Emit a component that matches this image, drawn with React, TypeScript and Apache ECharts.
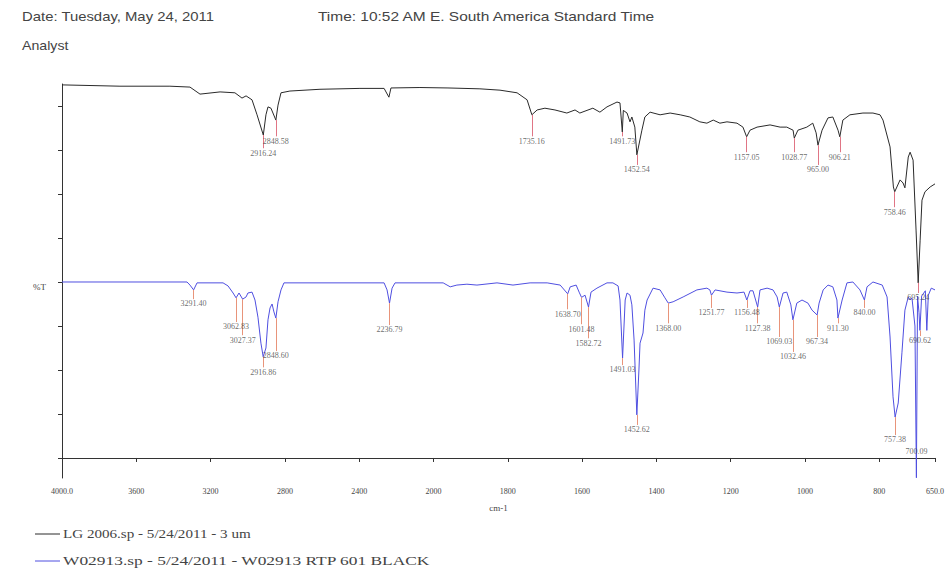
import React, { useEffect, useRef } from "react";
import * as echarts from "echarts";

// Spectrum 1: LG 2006.sp (black) — wavenumber (cm-1) and %T (arbitrary offset units)
const TOP_W = [4000, 3688, 3419, 3311, 3257, 3149, 3069, 3031, 3009, 2977, 2950, 2916.24, 2902, 2891, 2875, 2848.58, 2837, 2821, 2773, 2611, 2396, 2266, 2240, 2229, 2073, 1961, 1875, 1821, 1775, 1748, 1735.16, 1721, 1700, 1673, 1641, 1619, 1606, 1571, 1552, 1533, 1506, 1498, 1491.73, 1489, 1479, 1471, 1466, 1458, 1452.54, 1439, 1431, 1417, 1390, 1363, 1336, 1310, 1283, 1264, 1247, 1229, 1210, 1183, 1167, 1157.05, 1148, 1129, 1094, 1067, 1049, 1032, 1028.77, 1019, 995, 979, 970, 965.0, 954, 938, 925, 911, 906.21, 898, 879, 844, 817, 798, 790, 771, 762, 758.46, 744, 736, 731, 722, 717, 709, 701, 695.24, 690, 685, 677, 663, 650];
const TOP_T = [84.8, 84.5, 84.5, 84.3, 82.7, 83.2, 83.0, 81.8, 82.3, 81.4, 78.0, 73.4, 78.0, 79.8, 79.5, 76.8, 80.2, 83.0, 83.4, 83.8, 84.0, 84.0, 82.0, 84.1, 84.2, 84.1, 83.9, 83.6, 83.0, 81.4, 78.0, 79.1, 79.5, 79.1, 78.4, 79.1, 78.4, 79.5, 78.6, 79.8, 80.9, 80.7, 74.1, 79.0, 78.4, 76.4, 77.5, 75.2, 68.9, 74.5, 77.5, 78.6, 78.0, 78.4, 78.0, 77.5, 76.4, 76.1, 76.8, 76.1, 76.4, 76.1, 75.2, 73.0, 74.5, 75.2, 75.7, 75.2, 75.2, 74.5, 72.7, 74.5, 75.2, 76.1, 73.9, 71.1, 74.5, 77.3, 77.5, 74.5, 73.0, 76.8, 78.0, 78.4, 78.4, 78.0, 76.8, 70.7, 61.6, 60.5, 63.2, 62.5, 61.4, 68.4, 69.5, 67.7, 51.8, 39.8, 49.5, 58.6, 60.5, 61.6, 62.3];

// Spectrum 2: W02913.sp (blue)
const BOT_W = [4000, 3327, 3311, 3291.4, 3273, 3133, 3106, 3079, 3062.83, 3047, 3027.37, 3009, 2999, 2977, 2961, 2945, 2929, 2916.86, 2902, 2891, 2880, 2869, 2859, 2848.6, 2837, 2821, 2805, 2266, 2250, 2236.79, 2223, 2207, 1974, 1955, 1937, 1910, 1883, 1829, 1786, 1740, 1694, 1659, 1638.7, 1632, 1616, 1608, 1601.48, 1592, 1582.72, 1576, 1560, 1533, 1517, 1503, 1498, 1491.03, 1484, 1479, 1471, 1466, 1460, 1452.62, 1447, 1444, 1436, 1431, 1425, 1409, 1390, 1377, 1368.0, 1355, 1328, 1291, 1264, 1256, 1251.77, 1242, 1210, 1183, 1164, 1156.48, 1148, 1140, 1127.38, 1121, 1102, 1086, 1075, 1069.03, 1059, 1049, 1038, 1032.46, 1022, 1008, 992, 981, 967.34, 962, 951, 938, 925, 914, 911.3, 900, 887, 871, 852, 840.0, 833, 817, 792, 779, 771, 763, 757.38, 749, 739, 731, 722, 717, 712, 704, 700.09, 697, 693, 690.62, 686, 676, 672, 668, 660, 650];
const BOT_T = [40, 40, 39.3, 38.2, 39.8, 39.8, 39.1, 37.5, 36.4, 37.5, 36.1, 36.6, 37.5, 37.7, 35.9, 32.0, 26.1, 23.0, 25.0, 31.4, 34.1, 35.0, 33.2, 31.8, 35.5, 38.2, 39.8, 39.8, 38.2, 35.2, 38.6, 39.8, 39.8, 38.9, 39.3, 39.5, 39.3, 39.8, 39.3, 39.8, 39.8, 39.3, 37.3, 38.9, 39.3, 37.7, 36.5, 37.0, 34.3, 37.7, 38.6, 39.8, 39.8, 39.1, 35.9, 22.7, 35.9, 37.5, 37.0, 34.8, 26.8, 9.8, 20, 26.1, 28.4, 33.6, 35.9, 38.6, 38.2, 36.4, 35.2, 35.5, 36.6, 38.2, 38.6, 38.2, 37.0, 38.2, 37.7, 37.5, 37.7, 35.9, 38.0, 38.0, 34.3, 38.2, 38.6, 38.2, 36.6, 34.3, 37.5, 37.7, 34.8, 31.4, 35.2, 35.9, 35.2, 33.6, 32.5, 35.2, 38.2, 39.3, 38.9, 35.9, 31.8, 35.9, 39.8, 40, 38.2, 35.9, 38.9, 40, 39.3, 36.6, 27.5, 13.9, 9.3, 12.5, 23.9, 33.6, 36.6, 35.9, 36.4, 30, -4.5, 36.8, 33, 29, 36.8, 38.0, 29, 37, 38.6, 38.2];

// Peak picks (wavenumbers)
const TOP_PEAKS = [2916.24, 2848.58, 1735.16, 1491.73, 1452.54, 1157.05, 1028.77, 965.0, 906.21, 758.46, 695.24];
const BOT_PEAKS = [3291.4, 3062.83, 3027.37, 2916.86, 2848.6, 2236.79, 1638.7, 1601.48, 1582.72, 1491.03, 1452.62, 1368.0, 1251.77, 1156.48, 1127.38, 1069.03, 1032.46, 967.34, 911.3, 840.0, 757.38, 700.09, 690.62];

// Axis ticks
const X_TICK_W = [4000, 3600, 3200, 2800, 2400, 2000, 1800, 1600, 1400, 1200, 1000, 800, 650];
const X_TICK_TEXT = ["4000.0", "3600", "3200", "2800", "2400", "2000", "1800", "1600", "1400", "1200", "1000", "800", "650.0"];
const Y_TICKS = [0, 10, 20, 30, 40, 50, 60, 70, 80];

const SERIES_NAMES = ["LG 2006.sp - 5/24/2011 - 3 um", "W02913.sp - 5/24/2011 - W02913 RTP 601 BLACK"];

// layout: label rows (value units) for peak annotations
const TOP_LABEL_ROW = [69.3, 72.0, 72.0, 72.0, 65.5, 68.4, 68.4, 65.5, 68.4, 55.9, 36.4];
const BOT_LABEL_ROW = [35.0, 29.8, 26.8, 19.5, 23.2, 29.1, 32.7, 29.3, 26.1, 20.0, 6.4, 29.5, 33.0, 33.0, 29.5, 26.4, 23.0, 26.4, 29.5, 33.0, 4.1, 1.4, 26.6];

// 4000-2000 cm-1 drawn at half the scale of 2000-650 cm-1
const toU = (w: number) => (w >= 2000 ? 4000 - w : 2000 + (2000 - w) * 2);

const BLACK = "#2a2a2a";
const BLUE = "#4f4fe0";
const SERIF = "Liberation Serif";
const SANS = "Liberation Sans";

function peakLines(peaks: number[], W: number[], T: number[], rows: number[]) {
  const out: any[] = [];
  peaks.forEach((w, i) => {
    const idx = W.indexOf(w);
    const pv = T[idx];
    const end = rows[i] + 1.1;
    if (end < pv) out.push([{ coord: [toU(w), pv] }, { coord: [toU(w), end] }]);
  });
  return out;
}

function peakLabels(peaks: number[], rows: number[]) {
  return peaks.map((w, i) => ({ value: [toU(w), rows[i]], name: w.toFixed(2) }));
}

export default function App() {
  const ref = useRef<HTMLDivElement>(null);
  useEffect(() => {
    if (!ref.current) return;
    const chart = echarts.init(ref.current, undefined, { renderer: "svg" });
    const xTickU = X_TICK_W.map(toU);
    const labelStyle = {
      show: true,
      position: "inside" as const,
      formatter: (p: any) => p.name,
      fontSize: 8,
      fontFamily: SERIF,
      color: "#444",
    };
    chart.setOption({
      animation: false,
      backgroundColor: "#fff",
      grid: { left: 62, right: 16, top: 84, bottom: 90 },
      xAxis: {
        type: "value",
        min: 0,
        max: 4700,
        name: "cm-1",
        nameLocation: "middle",
        nameGap: 25,
        nameTextStyle: { fontFamily: SERIF, fontSize: 9, color: "#444" },
        axisLine: { show: true, lineStyle: { color: "#333", width: 1 } },
        axisTick: { show: true, length: 4, customValues: xTickU, lineStyle: { color: "#333" } },
        axisLabel: {
          customValues: xTickU,
          fontFamily: SERIF,
          fontSize: 8,
          color: "#444",
          margin: 9,
          formatter: (v: number) => {
            const i = xTickU.findIndex((u) => Math.abs(u - v) < 1e-6);
            return i >= 0 ? X_TICK_TEXT[i] : "";
          },
        },
        splitLine: { show: false },
      },
      yAxis: {
        type: "value",
        min: -4.55,
        max: 85,
        axisLine: { show: true, lineStyle: { color: "#333", width: 1 } },
        axisTick: { show: true, length: 4, customValues: Y_TICKS, lineStyle: { color: "#333" } },
        axisLabel: { show: false },
        splitLine: { show: false },
      },
      series: [
        {
          name: SERIES_NAMES[0],
          type: "line",
          data: TOP_W.map((w, i) => [toU(w), TOP_T[i]]),
          showSymbol: false,
          symbol: "none",
          lineStyle: { color: BLACK, width: 1 },
          z: 3,
          markLine: {
            silent: true,
            symbol: ["none", "none"],
            label: { show: false },
            lineStyle: { color: "#e07585", width: 1, type: "solid" },
            data: peakLines(TOP_PEAKS, TOP_W, TOP_T, TOP_LABEL_ROW),
          },
        },
        {
          name: SERIES_NAMES[1],
          type: "line",
          data: BOT_W.map((w, i) => [toU(w), BOT_T[i]]),
          showSymbol: false,
          symbol: "none",
          lineStyle: { color: BLUE, width: 1 },
          z: 2,
          markLine: {
            silent: true,
            symbol: ["none", "none"],
            label: { show: false },
            lineStyle: { color: "#e8947a", width: 1, type: "solid" },
            data: peakLines(BOT_PEAKS, BOT_W, BOT_T, BOT_LABEL_ROW),
          },
        },
        {
          name: "topPeaks",
          type: "scatter",
          silent: true,
          symbolSize: 1,
          itemStyle: { color: "rgba(0,0,0,0)" },
          label: labelStyle,
          data: peakLabels(TOP_PEAKS, TOP_LABEL_ROW),
          z: 5,
        },
        {
          name: "botPeaks",
          type: "scatter",
          silent: true,
          symbolSize: 1,
          itemStyle: { color: "rgba(0,0,0,0)" },
          label: labelStyle,
          data: peakLabels(BOT_PEAKS, BOT_LABEL_ROW),
          z: 5,
        },
      ],
      graphic: [
        { type: "text", x: 22, y: 17, scaleX: 1.24, style: { text: "Date: Tuesday, May 24, 2011", font: `12px "${SANS}"`, fill: "#444", textVerticalAlign: "middle" } },
        { type: "text", x: 318, y: 17, scaleX: 1.29, style: { text: "Time: 10:52 AM E. South America Standard Time", font: `12px "${SANS}"`, fill: "#444", textVerticalAlign: "middle" } },
        { type: "text", x: 22, y: 46, scaleX: 1.18, style: { text: "Analyst", font: `12px "${SANS}"`, fill: "#444", textVerticalAlign: "middle" } },
        { type: "text", x: 33, y: 287, style: { text: "%T", font: `9px "${SERIF}"`, fill: "#444", textVerticalAlign: "middle" } },
        { type: "line", shape: { x1: 35, y1: 534, x2: 60, y2: 534 }, style: { stroke: BLACK, lineWidth: 1 } },
        { type: "text", x: 63, y: 534, scaleX: 1.26, style: { text: SERIES_NAMES[0], font: `12px "${SERIF}"`, fill: "#444", textVerticalAlign: "middle" } },
        { type: "line", shape: { x1: 35, y1: 561, x2: 60, y2: 561 }, style: { stroke: BLUE, lineWidth: 1 } },
        { type: "text", x: 63, y: 561, scaleX: 1.45, style: { text: SERIES_NAMES[1], font: `12px "${SERIF}"`, fill: "#444", textVerticalAlign: "middle" } },
      ],
    });
    return () => chart.dispose();
  }, []);
  return <div ref={ref} style={{ position: "absolute", left: 0, top: 0, width: 951, height: 568 }} />;
}
